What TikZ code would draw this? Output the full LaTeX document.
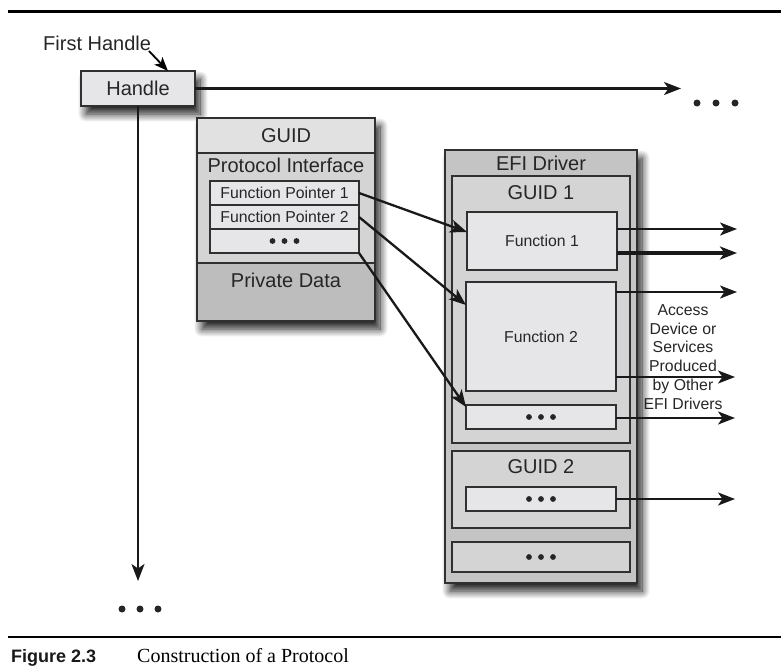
\documentclass[tikz,border=0pt]{standalone}
\usepackage{fontspec}
\setmainfont{Liberation Sans}
\newfontfamily\capserif{Liberation Serif}
\usetikzlibrary{arrows.meta,shadows.blur,calc}
\definecolor{lite}{HTML}{E6E6E8}
\definecolor{midg}{HTML}{D4D4D4}
\definecolor{dark}{HTML}{BDBDBD}
\definecolor{outer}{HTML}{C4C4C4}
\definecolor{edge}{HTML}{303030}
\tikzset{
  box/.style={draw=edge, line width=2.5pt, inner sep=0pt, outer sep=0pt},
  shad/.style={blur shadow={shadow xshift=5pt, shadow yshift=-8pt, shadow blur radius=8pt, shadow blur steps=14, shadow opacity=90}},
  big/.style={font=\fontsize{20}{23}\selectfont, text=black!85},
  small/.style={font=\fontsize{15.8}{18.9}\selectfont, text=black!85},
  arr/.style={line width=2.3pt, draw=black!90, -{Stealth[length=17pt,width=13pt,inset=4.5pt]}},
  ln/.style={line width=2.3pt, draw=black!90}
}
\newcommand{\threedots}[3]{% x y spacing
  \fill[black!85] (#1-#3,#2) circle (2.9pt) (#1,#2) circle (2.9pt) (#1+#3,#2) circle (2.9pt);}
\begin{document}
\begin{tikzpicture}[x=1pt,y=-1pt]
\useasboundingbox (0,0) rectangle (781,667);
% rules
\draw[line width=3pt] (8,11) -- (781,11);
\draw[line width=2.8pt] (8,637) -- (781,637);
% caption
\node[anchor=base west, font=\fontsize{18}{22}\selectfont\bfseries, inner sep=0pt, text=black!90] (figlbl) at (11,662) {Figure 2.3};
\node[anchor=base west, font=\capserif\fontsize{20}{23}\selectfont, inner sep=0pt] (figcap) at (137,662) {Construction of a Protocol};

% Handle
\node[box, fill=lite, shad, minimum width=114pt, minimum height=35pt, big] (handle) at (138,88.5) {Handle};
\node[big, anchor=west, inner sep=0pt] (first) at (43,43) {First Handle};
\draw[line width=1.8pt, -{Stealth[length=14pt,width=11pt,inset=3.5pt]}] (149,51) -- ([xshift=30pt]handle.north);
\coordinate (hright) at (681,88.5);
\coordinate (hdown) at (138,581);
\draw[arr] (handle.east) -- (hright);
\draw[arr] (handle.south) -- (hdown);
\fill[black!85] (697,103) circle (3.5pt) (716,103) circle (3.5pt) (735,103) circle (3.5pt);
\fill[black!85] (122,609) circle (3.5pt) (140,609) circle (3.5pt) (158,609) circle (3.5pt);

% Protocol block
\node[box, fill=midg, shad, minimum width=178pt, minimum height=203pt] (proto) at (286,219.5) {};
\node[box, fill=lite!70!midg, minimum width=178pt, minimum height=35pt, big] (guid) at (286,135.5) {GUID};
\node[box, fill=midg, minimum width=178pt, minimum height=110pt] (pi) at (286,208) {};
\node[big] (pitxt) at (286,165) {Protocol Interface};
\node[box, fill=dark, minimum width=178pt, minimum height=58pt] (priv) at (286,292) {};
\node[big] (privtxt) at (286,280) {Private Data};
\node[box, fill=lite, minimum width=149pt, minimum height=24pt, small] (fp1) at (284.5,193) {Function Pointer 1};
\node[box, fill=lite, minimum width=149pt, minimum height=24pt, small] (fp2) at (284.5,217) {Function Pointer 2};
\node[box, fill=lite, minimum width=149pt, minimum height=24pt] (fpd) at (284.5,241) {};
\threedots{284.5}{241}{12}

% EFI driver
\node[box, fill=outer, shad, minimum width=192pt, minimum height=433pt] (efi) at (541,366.5) {};
\node[big] (efitxt) at (541,163) {EFI Driver};
\node[box, fill=midg, minimum width=178pt, minimum height=267pt] (g1) at (541,309.5) {};
\node[big] (g1txt) at (541,193) {GUID 1};
\node[box, fill=lite, minimum width=150pt, minimum height=58pt, small] (f1) at (542,241) {Function 1};
\node[box, fill=lite, minimum width=150pt, minimum height=109pt, small] (f2) at (541,336.5) {Function 2};
\node[box, fill=lite, minimum width=150pt, minimum height=24pt] (d1) at (541,417) {};
\threedots{541}{417}{12}
\node[box, fill=midg, minimum width=178pt, minimum height=77pt] (g2) at (541,489.5) {};
\node[big] (g2txt) at (541,467) {GUID 2};
\node[box, fill=lite, minimum width=150pt, minimum height=24pt] (d2) at (541,499) {};
\threedots{541}{499}{12}
\node[box, fill=midg, minimum width=178pt, minimum height=30pt] (d3) at (541,557) {};
\threedots{541}{557}{12}

% pointer arrows
\draw[arr] (fp1.east) -- ([yshift=9pt]f1.west);
\draw[arr] (fp2.east) -- ([yshift=-23pt]f2.north west);
\draw[arr] (fpd.south east) -- ([yshift=-2pt]d1.north west);

% outgoing arrows
\coordinate (o1) at (737,229);
\coordinate (o2) at (737,253);
\coordinate (o3) at (737,292);
\coordinate (o4) at (735,377);
\coordinate (o5) at (735,418);
\coordinate (o6) at (735,499);
\draw[arr] (f1.east |- o1) -- (o1);
\draw[arr, line width=3.3pt] (f1.east |- o2) -- (o2);
\draw[arr] (f2.east |- o3) -- (o3);
\draw[arr] (f2.east |- o4) -- (o4);
\draw[arr] (d1.east |- o5) -- (o5);
\draw[arr] (d2.east) -- (o6);

\node[small, align=center, inner sep=0pt] (access) at (683,357) {Access\\Device or\\Services\\Produced\\by Other\\EFI Drivers};
\end{tikzpicture}
\end{document}
